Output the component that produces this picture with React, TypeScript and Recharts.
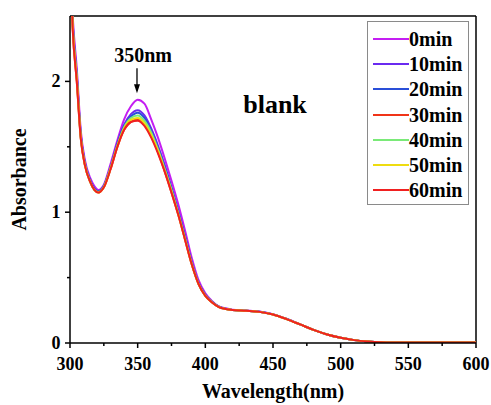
import {
  LineChart,
  Line,
  XAxis,
  YAxis,
  ReferenceLine,
  ReferenceDot,
} from "recharts"

// wavelength (nm)
const wavelengths = [
  300, 302, 305, 308, 311, 315, 318, 321, 325, 330, 335, 340, 345, 350, 355,
  360, 365, 370, 375, 380, 385, 390, 395, 400, 405, 410, 415, 420, 430, 440,
  450, 460, 470, 480, 490, 500, 510, 520, 530, 540, 560, 580, 600,
]

// absorbance per irradiation time
const min0 = [
  3.0, 2.5, 2.1, 1.62, 1.4, 1.26, 1.2, 1.17, 1.21, 1.37, 1.55, 1.71, 1.81, 1.86, 1.83,
  1.71, 1.57, 1.41, 1.24, 1.06, 0.86, 0.65, 0.48, 0.38, 0.32, 0.28, 0.265, 0.255, 0.248, 0.24,
  0.22, 0.185, 0.143, 0.1, 0.065, 0.04, 0.022, 0.012, 0.006, 0.004, 0.003, 0.003, 0.003,
]
const min10 = [
  3.0, 2.45, 2.05, 1.59, 1.38, 1.24, 1.18, 1.16, 1.2, 1.35, 1.53, 1.67, 1.75, 1.78, 1.74,
  1.64, 1.51, 1.36, 1.19, 1.01, 0.82, 0.62, 0.46, 0.37, 0.315, 0.278, 0.262, 0.253, 0.247, 0.239,
  0.219, 0.184, 0.142, 0.1, 0.065, 0.04, 0.022, 0.012, 0.006, 0.004, 0.003, 0.003, 0.003,
]
const min20 = [
  3.0, 2.44, 2.04, 1.58, 1.37, 1.24, 1.18, 1.16, 1.2, 1.34, 1.52, 1.66, 1.73, 1.76, 1.72,
  1.62, 1.49, 1.34, 1.18, 1.0, 0.81, 0.61, 0.455, 0.365, 0.313, 0.277, 0.261, 0.253, 0.247, 0.239,
  0.219, 0.184, 0.142, 0.1, 0.065, 0.04, 0.022, 0.012, 0.006, 0.004, 0.003, 0.003, 0.003,
]
const min30 = [
  3.0, 2.4, 2.0, 1.56, 1.36, 1.23, 1.17, 1.15, 1.19, 1.33, 1.5, 1.63, 1.69, 1.71, 1.67,
  1.58, 1.46, 1.31, 1.15, 0.98, 0.79, 0.6, 0.45, 0.36, 0.31, 0.275, 0.26, 0.252, 0.246, 0.238,
  0.218, 0.183, 0.142, 0.1, 0.065, 0.04, 0.022, 0.012, 0.006, 0.004, 0.003, 0.003, 0.003,
]
const min40 = [
  3.0, 2.43, 2.03, 1.57, 1.37, 1.23, 1.17, 1.155, 1.195, 1.34, 1.51, 1.65, 1.72, 1.74, 1.7,
  1.61, 1.48, 1.33, 1.17, 0.99, 0.8, 0.605, 0.452, 0.362, 0.312, 0.276, 0.26, 0.252, 0.246, 0.238,
  0.218, 0.183, 0.142, 0.1, 0.065, 0.04, 0.022, 0.012, 0.006, 0.004, 0.003, 0.003, 0.003,
]
const min50 = [
  3.0, 2.42, 2.02, 1.57, 1.36, 1.23, 1.17, 1.15, 1.19, 1.335, 1.505, 1.64, 1.705, 1.72, 1.68,
  1.59, 1.47, 1.32, 1.16, 0.985, 0.795, 0.6, 0.45, 0.36, 0.31, 0.275, 0.26, 0.252, 0.246, 0.238,
  0.218, 0.183, 0.142, 0.1, 0.065, 0.04, 0.022, 0.012, 0.006, 0.004, 0.003, 0.003, 0.003,
]
const min60 = [
  3.0, 2.4, 2.0, 1.56, 1.36, 1.23, 1.17, 1.15, 1.19, 1.33, 1.5, 1.63, 1.69, 1.70, 1.66,
  1.57, 1.45, 1.31, 1.15, 0.98, 0.79, 0.6, 0.45, 0.36, 0.31, 0.275, 0.26, 0.252, 0.246, 0.238,
  0.218, 0.183, 0.142, 0.1, 0.065, 0.04, 0.022, 0.012, 0.006, 0.004, 0.003, 0.003, 0.003,
]

const seriesNames = ["0min", "10min", "20min", "30min", "40min", "50min", "60min"]
const seriesValues = [min0, min10, min20, min30, min40, min50, min60]
const seriesColors = ["#C41EF2", "#6A2AF0", "#2A4FD8", "#F03418", "#7AEA78", "#EEDC10", "#F02020"]

const xTicks = [300, 325, 350, 375, 400, 425, 450, 475, 500, 525, 550, 575, 600]
const yTicks = [0, 0.5, 1, 1.5, 2]

const data = wavelengths.map((w, i) => {
  const row: Record<string, number> = { wl: w }
  seriesNames.forEach((n, j) => {
    row[n] = seriesValues[j][i]
  })
  return row
})

const FONT = "'Liberation Serif', 'Times New Roman', serif"

function XTick(props: any) {
  const { x, y, payload } = props
  const major = payload.value % 50 === 0
  return (
    <g>
      <line x1={x} y1={y} x2={x} y2={y + (major ? 5 : 3)} stroke="#000" strokeWidth={1.5} />
      {major && (
        <text x={x} y={y + 27} textAnchor="middle" fontFamily={FONT} fontWeight="bold" fontSize={18} fill="#000">
          {payload.value}
        </text>
      )}
    </g>
  )
}

function YTick(props: any) {
  const { x, y, payload } = props
  const major = payload.value % 1 === 0
  return (
    <g>
      <line x1={x} y1={y} x2={x - (major ? 5 : 3)} y2={y} stroke="#000" strokeWidth={1.5} />
      {major && (
        <text x={x - 14} y={y + 6} textAnchor="middle" fontFamily={FONT} fontWeight="bold" fontSize={18} fill="#000">
          {payload.value}
        </text>
      )}
    </g>
  )
}

function LegendBox() {
  return (
    <div
      style={{
        position: "absolute",
        left: 367,
        top: 21,
        width: 102,
        height: 184,
        border: "1.5px solid #8a8a8a",
        boxSizing: "border-box",
        background: "#fff",
        paddingTop: 4,
      }}
    >
      {seriesNames.map((n, i) => (
        <div key={n} style={{ display: "flex", alignItems: "center", height: 25.3 }}>
          <div style={{ width: 36, height: 2, background: seriesColors[i], marginLeft: 5 }} />
          <span style={{ fontFamily: FONT, fontWeight: "bold", fontSize: 20, color: "#000", lineHeight: "20px" }}>
            {n}
          </span>
        </div>
      ))}
    </div>
  )
}

function Arrow(props: any) {
  const { cx, cy } = props
  return (
    <g>
      <line x1={cx} y1={cy} x2={cx} y2={cy + 22} stroke="#000" strokeWidth={1.3} />
      <path d={`M${cx - 3},${cy + 16} L${cx + 3},${cy + 16} L${cx},${cy + 25} Z`} fill="#000" />
    </g>
  )
}

export default function App() {
  return (
    <div style={{ position: "absolute", left: 0, top: 0, width: 491, height: 405, background: "#fff" }}>
      <LineChart width={491} height={405} data={data} margin={{ top: 16, right: 15, left: 10, bottom: 0 }}>
        <XAxis
          dataKey="wl"
          type="number"
          domain={[300, 600]}
          ticks={xTicks}
          interval={0}
          height={62}
          tickSize={0}
          tickMargin={0}
          tickLine={false}
          tick={<XTick />}
          axisLine={{ stroke: "#000", strokeWidth: 1.5 }}
          label={{
            value: "Wavelength(nm)",
            position: "insideBottom",
            offset: 7,
            style: { fontFamily: FONT, fontWeight: "bold", fontSize: 20, fill: "#000" },
          }}
        />
        <YAxis
          type="number"
          domain={[0, 2.5]}
          ticks={yTicks}
          interval={0}
          allowDataOverflow
          width={60}
          tickSize={0}
          tickMargin={0}
          tickLine={false}
          tick={<YTick />}
          axisLine={{ stroke: "#000", strokeWidth: 1.5 }}
          label={{
            value: "Absorbance",
            angle: -90,
            position: "insideLeft",
            offset: 9,
            style: { fontFamily: FONT, fontWeight: "bold", fontSize: 20, fill: "#000", textAnchor: "middle" },
          }}
        />
        <ReferenceLine y={2.5} stroke="#000" strokeWidth={1.5} />
        <ReferenceLine x={600} stroke="#000" strokeWidth={1.5} />
        {seriesNames.map((n, i) => (
          <Line
            key={n}
            type="monotone"
            dataKey={n}
            stroke={seriesColors[i]}
            strokeWidth={2}
            dot={false}
            isAnimationActive={false}
          />
        ))}
        <ReferenceDot x={349.5} y={2.1} r={0} shape={<Arrow />} />
        <ReferenceDot
          x={354}
          y={2.2}
          r={0}
          fill="none"
          stroke="none"
          label={{
            value: "350nm",
            position: "center",
            style: { fontFamily: FONT, fontWeight: "bold", fontSize: 20, fill: "#000" },
          }}
        />
        <ReferenceDot
          x={451.5}
          y={1.83}
          r={0}
          fill="none"
          stroke="none"
          label={{
            value: "blank",
            position: "center",
            style: { fontFamily: FONT, fontWeight: "bold", fontSize: 26, fill: "#000" },
          }}
        />
      </LineChart>
      <LegendBox />
    </div>
  )
}
